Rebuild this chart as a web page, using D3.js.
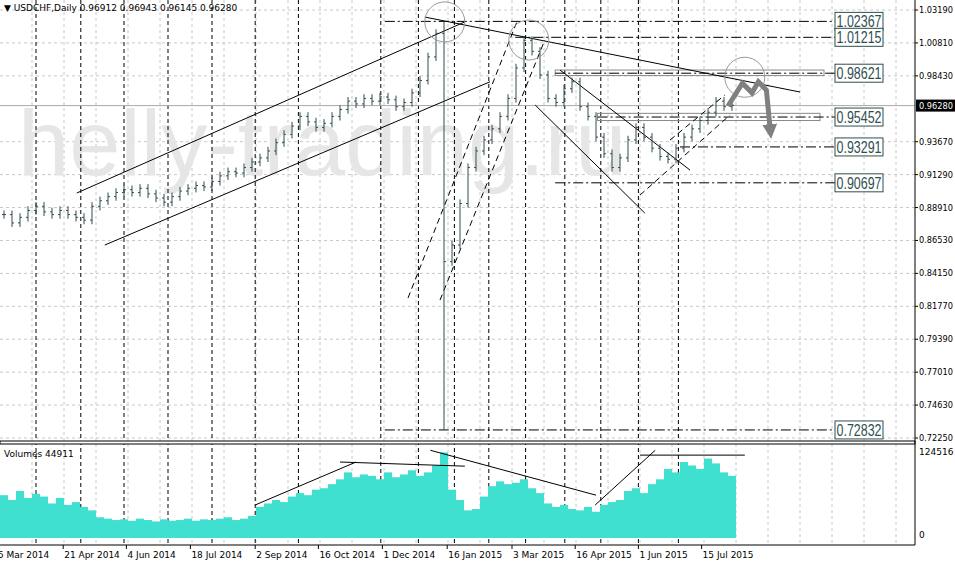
<!DOCTYPE html>
<html><head><meta charset="utf-8">
<script src="https://cdn.jsdelivr.net/npm/d3@7"></script>
<style>body{margin:0;background:#fff}svg{display:block;font-family:"DejaVu Sans",sans-serif}</style>
</head><body><div id="chart"></div>
<script>
// closes, one per 4 trading days
var closes = [0.884,0.878,0.882,0.887,0.890,0.886,0.884,0.887,0.884,0.882,0.880,0.890,0.894,0.897,0.900,0.902,
  0.900,0.903,0.899,0.896,0.893,0.897,0.901,0.903,0.905,0.904,0.908,0.912,0.915,0.914,0.918,0.922,0.925,0.930,
  0.936,0.942,0.948,0.955,0.951,0.947,0.950,0.955,0.960,0.966,0.964,0.968,0.966,0.969,0.967,0.962,0.965,0.972,
  0.981,0.998,1.015,0.850,0.862,0.892,0.918,0.930,0.938,0.946,0.955,0.968,0.990,1.010,1.002,0.985,0.968,0.965,
  0.975,0.980,0.962,0.955,0.940,0.928,0.918,0.925,0.938,0.947,0.940,0.932,0.926,0.924,0.932,0.940,0.946,0.952,
  0.958,0.966,0.962,0.963];
var spikes = [{i: 55, high: 1.0237, low: 0.7283}];
var volumes = [62,55,68,58,64,60,50,58,48,52,45,40,30,28,26,27,25,28,26,24,27,25,26,28,25,27,26,28,30,
  26,28,32,45,50,55,52,60,65,62,70,72,78,85,95,88,92,90,85,95,88,92,98,90,95,105,124,70,55,40,42,60,75,82,
  78,80,85,72,65,50,45,48,42,40,45,38,48,52,55,68,72,65,78,85,100,95,110,105,100,115,108,95,90];
var priceTicks = [1.0319,1.0081,0.9843,0.9367,0.9129,0.8891,0.8653,0.8415,0.8177,0.7939,0.7701,0.7463,0.7225];
var lastPrice = 0.9628;
var dateLabels = [["6 Mar 2014",-0.9],["21 Apr 2014",7.4],["4 Jun 2014",15.3],["18 Jul 2014",23.3],["2 Sep 2014",31.4],
  ["16 Oct 2014",39.3],["1 Dec 2014",47.3],["16 Jan 2015",55.4],["3 Mar 2015",63.5],["16 Apr 2015",71.4],
  ["1 Jun 2015",79.3],["15 Jul 2015",87.2]];
var levels = [[1.02367,47.6],[1.01215,63.9],[0.98621,68.9],[0.95452,74.2],[0.93291,84.5],[0.90697,68.9],[0.72832,47.6]];
var zones = [[0.9885,0.9845,68.9,102.5],[0.9572,0.9520,74.2,102]];
var userVLines = [4,9.6,15,20.5,26,31.4,36.8,47.1,51.8,56.3,60.6,65.2,70.1,74.6,79.3,84.3];
var trendLines = [[9.1,0.8996,57.6,1.0233,""],[12.6,0.862,60.75,0.980,""],[52.6,1.0268,99.5,0.9726,""],
  [50.5,0.8237,64.1,1.0232,"6,4"],[54.5,0.8222,67.6,1.0102,"6,4"],[66.4,0.9632,80.1,0.8851,""],
  [69.5,0.9885,85.75,0.9162,""],[79.5,0.8981,90.75,0.9560,"6,4"],[83.25,0.9379,90.1,0.9704,"6,4"]];
var volLines = [[31.4,47800,44,110000],[42,110000,57.6,104000],[53.3,127000,74,62000],[73.9,47800,81.4,127000],[79.5,120000,92.6,120000]];
var circles = [[55.1,1.0233,20],[65.6,1.0102,20],[92.6,0.9833,20]];
var arrowPath = [[90.5,0.9625],[92.3,0.9790],[93.5,0.9720],[94.3,0.9800],[95.3,0.9740],[95.8,0.9440]];

var W = 955, H = 564, plotR = 915;
var svg = d3.select("#chart").append("svg").attr("width", W).attr("height", H);
var x = d3.scaleLinear().domain([0, 1]).range([4, 12]);
var y = d3.scaleLinear().domain([0.7225, 1.0319]).range([438, 10]);
var yv = d3.scaleLinear().domain([0, 124516]).range([538, 452]);

// light grid
var grid = svg.append("g").attr("stroke", "#c8c8c8").attr("stroke-dasharray", "3,3");
d3.range(32, plotR, 32).forEach(function(gx) {
  grid.append("line").attr("x1", gx).attr("x2", gx).attr("y1", 0).attr("y2", 545);
});
priceTicks.forEach(function(p) {
  grid.append("line").attr("x1", 0).attr("x2", plotR).attr("y1", y(p)).attr("y2", y(p));
});

// watermark
svg.append("text").attr("x", 18).attr("y", 175).attr("font-size", 92).attr("fill", "#e6e6e6")
  .attr("font-family", "Liberation Sans, Arial, sans-serif").text("helly-trading.ru");

// black dashed verticals
svg.append("g").selectAll("line").data(userVLines).join("line")
  .attr("x1", d => x(d)).attr("x2", d => x(d)).attr("y1", 0).attr("y2", 545)
  .attr("stroke", "#000").attr("stroke-dasharray", "4,3");

// zones
svg.append("g").selectAll("rect").data(zones).join("rect")
  .attr("x", d => x(d[2])).attr("y", d => y(d[0])).attr("width", d => x(d[3]) - x(d[2]))
  .attr("height", d => y(d[1]) - y(d[0])).attr("fill", "none").attr("stroke", "#888");

// horizontal levels with boxed labels
var lv = svg.append("g");
levels.forEach(function(l) {
  lv.append("line").attr("x1", x(l[1])).attr("x2", 835).attr("y1", y(l[0])).attr("y2", y(l[0]))
    .attr("stroke", "#000").attr("stroke-dasharray", "10,3,2,3");
  lv.append("rect").attr("x", 835).attr("y", y(l[0]) - 9).attr("width", 48).attr("height", 18)
    .attr("fill", "#fff").attr("stroke", "#2f4f4f");
  lv.append("text").attr("x", 859).attr("y", y(l[0]) + 6).attr("text-anchor", "middle")
    .attr("font-size", 16).attr("fill", "#2f4f4f").attr("font-family", "Liberation Sans, Arial")
    .attr("textLength", 45).attr("lengthAdjust", "spacingAndGlyphs")
    .text(d3.format(".5f")(l[0]));
});

// last price line
svg.append("line").attr("x1", 0).attr("x2", plotR).attr("y1", y(lastPrice)).attr("y2", y(lastPrice)).attr("stroke", "#aaa");

// trend lines
svg.append("g").selectAll("line").data(trendLines).join("line")
  .attr("x1", d => x(d[0])).attr("y1", d => y(d[1])).attr("x2", d => x(d[2])).attr("y2", d => y(d[3]))
  .attr("stroke", "#000").attr("stroke-dasharray", d => d[4] || null);

// price bars
var bars = svg.append("g").attr("stroke", "#2f4f4f");
closes.forEach(function(c, i) {
  var o = i ? closes[i - 1] : c;
  var hi = Math.max(o, c) + 0.003, lo = Math.min(o, c) - 0.003;
  spikes.forEach(function(s) { if (s.i === i) { hi = s.high; lo = s.low; } });
  var cx = x(i);
  bars.append("line").attr("x1", cx).attr("x2", cx).attr("y1", y(hi)).attr("y2", y(lo));
  bars.append("line").attr("x1", cx - 2).attr("x2", cx).attr("y1", y(o)).attr("y2", y(o));
  bars.append("line").attr("x1", cx).attr("x2", cx + 2).attr("y1", y(c)).attr("y2", y(c));
});

// circles and arrow
svg.append("g").selectAll("circle").data(circles).join("circle")
  .attr("cx", d => x(d[0])).attr("cy", d => y(d[1])).attr("r", d => d[2])
  .attr("fill", "none").attr("stroke", "#999");
svg.append("defs").append("marker").attr("id", "ah").attr("viewBox", "0 0 10 10").attr("refX", 5).attr("refY", 5)
  .attr("markerWidth", 3).attr("markerHeight", 3).attr("orient", "auto")
  .append("path").attr("d", "M0,0L10,5L0,10z").attr("fill", "#808080");
svg.append("path").attr("d", d3.line().x(d => x(d[0])).y(d => y(d[1]))(arrowPath))
  .attr("fill", "none").attr("stroke", "#808080").attr("stroke-width", 5).attr("marker-end", "url(#ah)");

// volume panel
svg.append("rect").attr("x", 0).attr("y", 441).attr("width", plotR).attr("height", 3).attr("fill", "#fff")
  .attr("stroke", "#000");
svg.append("g").selectAll("rect").data(volumes).join("rect")
  .attr("x", (d, i) => x(i) - 4).attr("width", 8).attr("y", d => yv(d * 1000))
  .attr("height", d => yv(0) - yv(d * 1000)).attr("fill", "#40e0d0");
svg.append("g").selectAll("line").data(volLines).join("line")
  .attr("x1", d => x(d[0])).attr("y1", d => yv(d[1])).attr("x2", d => x(d[2])).attr("y2", d => yv(d[3]))
  .attr("stroke", "#000");
svg.append("text").attr("x", 4).attr("y", 457).attr("font-size", 9).text("Volumes 44911");
svg.append("line").attr("x1", 0).attr("x2", plotR).attr("y1", 545).attr("y2", 545).attr("stroke", "#000");
svg.append("line").attr("x1", plotR).attr("x2", plotR).attr("y1", 0).attr("y2", 545).attr("stroke", "#000");

// axes text
var ax = svg.append("g").attr("font-size", 9).attr("fill", "#000");
priceTicks.forEach(function(p) {
  ax.append("line").attr("x1", plotR).attr("x2", plotR + 3).attr("y1", y(p)).attr("y2", y(p)).attr("stroke", "#000");
  ax.append("text").attr("x", 919).attr("y", y(p) + 3).attr("textLength", 34).attr("lengthAdjust", "spacingAndGlyphs")
    .text(d3.format(".5f")(p));
});
ax.append("rect").attr("x", 916).attr("y", y(lastPrice) - 6).attr("width", 39).attr("height", 12).attr("fill", "#000");
ax.append("text").attr("x", 919).attr("y", y(lastPrice) + 3).attr("fill", "#fff").attr("textLength", 34)
  .attr("lengthAdjust", "spacingAndGlyphs").text(d3.format(".5f")(lastPrice));
ax.append("text").attr("x", 919).attr("y", yv(124516) + 3).text("124516");
ax.append("text").attr("x", 919).attr("y", yv(0)).text("0");
dateLabels.forEach(function(d) {
  ax.append("line").attr("x1", x(d[1])).attr("x2", x(d[1])).attr("y1", 545).attr("y2", 549).attr("stroke", "#000");
  ax.append("text").attr("x", x(d[1]) + 1).attr("y", 558).text(d[0]);
});
ax.append("text").attr("x", 4).attr("y", 11).attr("font-size", 9)
  .text("\u25BC USDCHF,Daily  0.96912 0.96943 0.96145 0.96280");
</script></body></html>
